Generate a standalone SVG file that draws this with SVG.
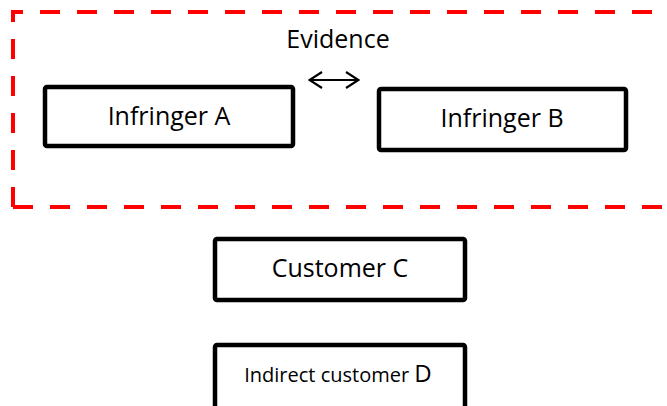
<svg xmlns="http://www.w3.org/2000/svg" width="667" height="406" viewBox="0 0 667 406">
  <style>
    .box { fill: #ffffff; stroke: #000000; stroke-width: 4.5; }
    .label { font-family: "Open Sans", "Liberation Sans", sans-serif; font-size: 25px; fill: #000000; text-anchor: middle; }
    .group { fill: none; stroke: #ff0000; stroke-width: 4; stroke-dasharray: 20 17; }
    .link { fill: none; stroke: #000000; stroke-width: 2; }
  </style>
  <defs>
    <marker id="chev" viewBox="0 0 16 20" refX="15" refY="10" markerWidth="16" markerHeight="20" markerUnits="userSpaceOnUse" orient="auto-start-reverse">
      <path d="M2,2 L14.5,10 L2,18" fill="none" stroke="#000000" stroke-width="2.2"/>
    </marker>
  </defs>
  <rect width="667" height="406" fill="#ffffff"/>

  <!-- dashed boundary around both infringers -->
  <g id="infringer-group">
    <path class="group" d="M13,207 L13,12 L680,12 M13,207 L680,207"/>
    <text class="label" x="338" y="48">Evidence</text>
  </g>

  <g id="connectors">
    <line class="link" x1="309" y1="80" x2="359" y2="80" marker-start="url(#chev)" marker-end="url(#chev)"/>
  </g>

  <g id="infringer-a">
    <rect class="box" x="45" y="87" width="248" height="59" rx="2"/>
    <text class="label" x="169" y="125">Infringer A</text>
  </g>

  <g id="infringer-b">
    <rect class="box" x="379" y="89" width="247" height="61" rx="2"/>
    <text class="label" x="502" y="127">Infringer B</text>
  </g>

  <g id="customer-c">
    <rect class="box" x="215" y="239" width="250" height="61" rx="2"/>
    <text class="label" x="340" y="277">Customer C</text>
  </g>

  <g id="customer-d">
    <rect class="box" x="215" y="345" width="250" height="70" rx="2"/>
    <text class="label" x="338" y="382" style="font-size:20px">Indirect customer <tspan style="font-size:24px">D</tspan></text>
  </g>
</svg>
